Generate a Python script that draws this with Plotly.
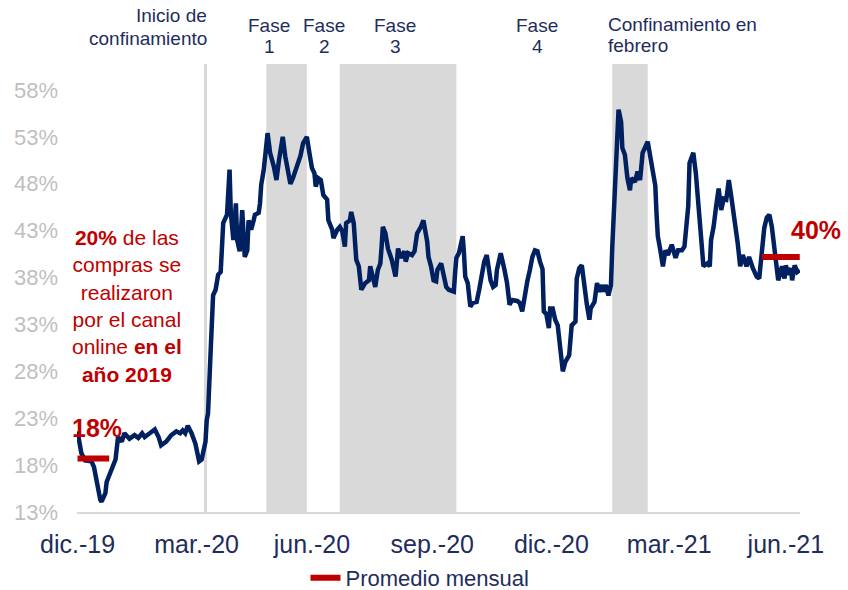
import pandas as pd
import plotly.graph_objects as go

# ---------------- data ----------------
start_date = pd.Timestamp("2019-12-01")

# observation day (days since 2019-12-01) and online share (%)
obs_day = [5, 8, 11, 16, 18, 20, 23, 24, 27, 28, 32, 35, 37, 40, 42, 46, 50, 53, 56, 58,
           62, 66, 69, 71, 75, 79, 83, 86, 88, 90, 92, 95, 98, 101, 103, 106, 107, 108, 110, 111,
           112, 114, 115, 116, 118, 119, 120, 123, 125, 126, 128, 130, 131, 133, 135, 137, 139, 140, 142, 144,
           145, 148, 149, 150, 152, 155, 157, 160, 162, 164, 167, 169, 173, 175, 178, 181, 183, 186, 188, 190,
           192, 193, 195, 197, 199, 202, 203, 206, 207, 210, 212, 214, 216, 217, 220, 221, 223, 225, 227, 228,
           229, 232, 235, 236, 238, 240, 242, 244, 245, 246, 248, 250, 253, 256, 258, 260, 263, 264, 266, 269,
           271, 273, 276, 278, 281, 282, 284, 286, 288, 289, 292, 294, 296, 298, 302, 303, 304, 306, 309, 310,
           311, 313, 315, 317, 320, 322, 324, 326, 328, 331, 333, 335, 336, 339, 342, 344, 346, 348, 352, 354,
           356, 357, 360, 362, 364, 366, 368, 370, 372, 373, 375, 377, 378, 380, 382, 384, 386, 388, 390, 393,
           395, 398, 399, 401, 403, 405, 407, 409, 410, 413, 415, 417, 419, 420, 422, 424, 426, 427, 428, 430,
           432, 434, 435, 437, 439, 441, 442, 445, 447, 449, 451, 455, 457, 458, 461, 462, 463, 465, 467, 469,
           471, 474, 477, 479, 482, 484, 487, 488, 491, 493, 495, 497, 499, 502, 504, 505, 507, 509, 511, 513,
           515, 517, 519, 521, 524, 526, 528, 530, 533, 535, 538, 541, 543, 545, 547, 549, 551, 553, 555, 557,
           558, 561, 563, 564, 566, 568, 569, 571, 573, 575]

online_share = [21.6, 19.3, 18.5, 18.4, 17.8, 16.1, 14.3, 14.1, 15.0, 16.2, 17.7, 18.6, 21.0, 20.5, 21.4, 20.8, 21.2, 20.9, 21.4, 21.0,
                21.4, 21.8, 21.0, 20.1, 20.5, 21.2, 21.6, 21.4, 21.7, 21.4, 22.2, 21.4, 20.3, 18.4, 18.6, 20.5, 22.8, 23.5, 29.9, 34.2,
                36.1, 36.7, 37.4, 38.3, 38.6, 40.9, 43.8, 44.7, 49.5, 44.9, 42.0, 45.9, 42.0, 40.8, 45.2, 40.2, 40.9, 44.1, 43.1, 44.1,
                44.7, 44.9, 45.9, 47.9, 49.5, 53.4, 51.3, 49.8, 48.4, 50.5, 53.0, 50.9, 48.0, 48.6, 49.8, 51.0, 52.3, 53.0, 51.3, 49.7,
                49.1, 47.7, 48.6, 48.4, 46.8, 46.3, 44.1, 43.1, 42.2, 43.1, 43.4, 42.9, 41.3, 43.8, 44.1, 45.0, 43.8, 39.9, 39.2, 37.4,
                36.7, 37.4, 37.7, 39.2, 38.1, 37.0, 38.8, 39.5, 41.3, 43.4, 42.7, 41.1, 39.9, 38.1, 41.1, 40.1, 40.8, 39.7, 40.6, 40.4,
                40.8, 42.7, 43.4, 44.1, 41.8, 40.2, 39.2, 37.7, 37.6, 38.8, 39.5, 37.9, 37.0, 36.7, 36.5, 38.5, 40.1, 40.6, 42.4, 40.6,
                38.1, 37.4, 34.9, 35.3, 35.4, 36.7, 38.6, 39.7, 40.4, 37.7, 37.0, 37.2, 38.8, 40.6, 38.8, 37.4, 35.1, 35.6, 35.5, 35.3,
                34.4, 35.4, 37.6, 38.8, 40.2, 40.9, 40.8, 39.7, 38.9, 34.4, 34.1, 32.6, 34.7, 34.7, 33.5, 32.9, 30.0, 28.0, 29.0, 29.7,
                32.9, 33.3, 37.9, 39.0, 39.3, 36.9, 35.1, 33.5, 34.7, 35.4, 37.4, 36.5, 37.2, 36.5, 37.2, 36.1, 37.2, 41.1, 44.0, 48.6,
                55.9, 54.6, 51.8, 51.1, 48.6, 47.3, 48.6, 48.2, 49.3, 48.4, 51.3, 52.5, 51.0, 50.0, 47.8, 44.7, 42.4, 40.9, 39.2, 40.9,
                40.4, 41.5, 40.1, 40.9, 40.9, 41.3, 45.6, 50.2, 51.3, 49.1, 45.6, 42.7, 39.2, 39.5, 39.2, 42.0, 43.4, 45.6, 47.5, 45.2,
                46.4, 46.3, 48.4, 46.6, 43.8, 41.7, 39.2, 40.4, 39.2, 40.2, 39.0, 38.1, 37.9, 41.3, 43.3, 44.4, 44.7, 43.4, 40.9, 39.5,
                37.7, 39.2, 37.9, 39.3, 38.3, 39.0, 37.7, 39.3, 38.6, 38.8]

# monthly averages (Dec-2019 and Jun-2021)
avg_start_day = [5, 545]
avg_end_day = [30, 575]
avg_value = [18.7, 40.2]
avg_labels = ["18%", "40%"]

# periods
lockdown_start = "2020-03-16"
shaded_periods = [("2020-05-03", "2020-06-04"), ("2020-06-30", "2020-09-30"), ("2021-01-31", "2021-02-28")]

tick_dates = ["2019-12-06", "2020-03-09", "2020-06-08", "2020-09-11", "2020-12-14", "2021-03-17", "2021-06-17"]
tick_text = ["dic.-19", "mar.-20", "jun.-20", "sep.-20", "dic.-20", "mar.-21", "jun.-21"]

y_ticks = [13, 18, 23, 28, 33, 38, 43, 48, 53, 58]

# ---------------- figure ----------------
NAVY = "#002060"
RED = "#c00000"
TXT = "#1f2d5c"
GRAY = "#d9d9d9"
FONT = "Liberation Sans, Arial, sans-serif"

dates = start_date + pd.to_timedelta(obs_day, unit="D")

avg_x, avg_y = [], []
for s, e, v in zip(avg_start_day, avg_end_day, avg_value):
    avg_x += [start_date + pd.Timedelta(days=s), start_date + pd.Timedelta(days=e), None]
    avg_y += [v, v, None]

fig = go.Figure()
fig.add_trace(go.Scatter(x=dates, y=online_share, mode="lines",
                         line=dict(color=NAVY, width=4.5), showlegend=False, hoverinfo="skip"))
fig.add_trace(go.Scatter(x=avg_x, y=avg_y, mode="lines", name="Promedio mensual",
                         line=dict(color=RED, width=6), connectgaps=False))

for x0, x1 in shaded_periods:
    fig.add_shape(type="rect", xref="x", yref="paper", x0=x0, x1=x1, y0=0, y1=1,
                  fillcolor=GRAY, line=dict(width=0), layer="below")
fig.add_shape(type="line", xref="x", yref="paper", x0=lockdown_start, x1=lockdown_start, y0=0, y1=1,
              line=dict(color=GRAY, width=3), layer="below")

PL, PR, PT, PB = 77, 800, 64, 512
def px(x):
    return (x - PL) / (PR - PL)
def py(y):
    return (PB - y) / (PB - PT)

def top_text(text, x, y, anchor):
    fig.add_annotation(text=text, xref="paper", yref="paper", x=px(x), y=py(y),
                       xanchor=anchor, yanchor="middle", showarrow=False,
                       font=dict(family=FONT, size=19, color=TXT))

top_text("Inicio de", 209, 16, "right")
top_text("confinamiento", 209, 38, "right")
for lbl, cx in [("1", 269), ("2", 324), ("3", 395), ("4", 537)]:
    top_text("Fase", cx, 26, "center")
    top_text(lbl, cx, 47, "center")
top_text("Confinamiento en", 606, 24, "left")
top_text("febrero", 606, 45, "left")

fig.add_annotation(
    text="<b>20%</b> de las<br>compras se<br>realizaron<br>por el canal<br>online <b>en el</b><br><b>año 2019</b>",
    xref="paper", yref="paper", x=px(127), y=py(306), xanchor="center", yanchor="middle",
    showarrow=False, align="center", font=dict(family=FONT, size=21, color=RED))

fig.add_annotation(text="<b>%s</b>" % avg_labels[0], xref="paper", yref="paper", x=px(97), y=py(428),
                   xanchor="center", yanchor="middle", showarrow=False,
                   font=dict(family=FONT, size=25, color=RED))
fig.add_annotation(text="<b>%s</b>" % avg_labels[1], xref="paper", yref="paper", x=px(789), y=py(230),
                   xanchor="left", yanchor="middle", showarrow=False,
                   font=dict(family=FONT, size=25, color=RED))

fig.update_layout(
    width=848, height=590,
    margin=dict(l=PL, r=848 - PR, t=PT, b=590 - PB, autoexpand=False),
    paper_bgcolor="white", plot_bgcolor="white",
    font=dict(family=FONT, color=TXT),
    showlegend=True,
    legend=dict(orientation="h", x=px(420), xanchor="center", y=py(578), yanchor="middle",
                font=dict(family=FONT, size=22, color=TXT), bgcolor="rgba(0,0,0,0)"),
    xaxis=dict(type="date", range=["2019-12-05 14:24", "2021-06-28 04:48"], automargin=False,
               tickvals=tick_dates, ticktext=tick_text, ticks="", showgrid=False, zeroline=False,
               showline=True, linecolor=GRAY, linewidth=2,
               tickfont=dict(family=FONT, size=25, color=TXT), ticklabelstandoff=9),
    yaxis=dict(range=[13, 60.77], tickvals=y_ticks, ticktext=["%d%%" % v for v in y_ticks],
               automargin=False, ticks="", showgrid=False, zeroline=False, showline=False,
               tickfont=dict(family=FONT, size=22, color="#bfbfbf"), ticklabelstandoff=18),
)

fig.write_html("out.html", config={"displayModeBar": False},
               post_script="document.body.style.margin='0';document.body.style.overflow='hidden';")
